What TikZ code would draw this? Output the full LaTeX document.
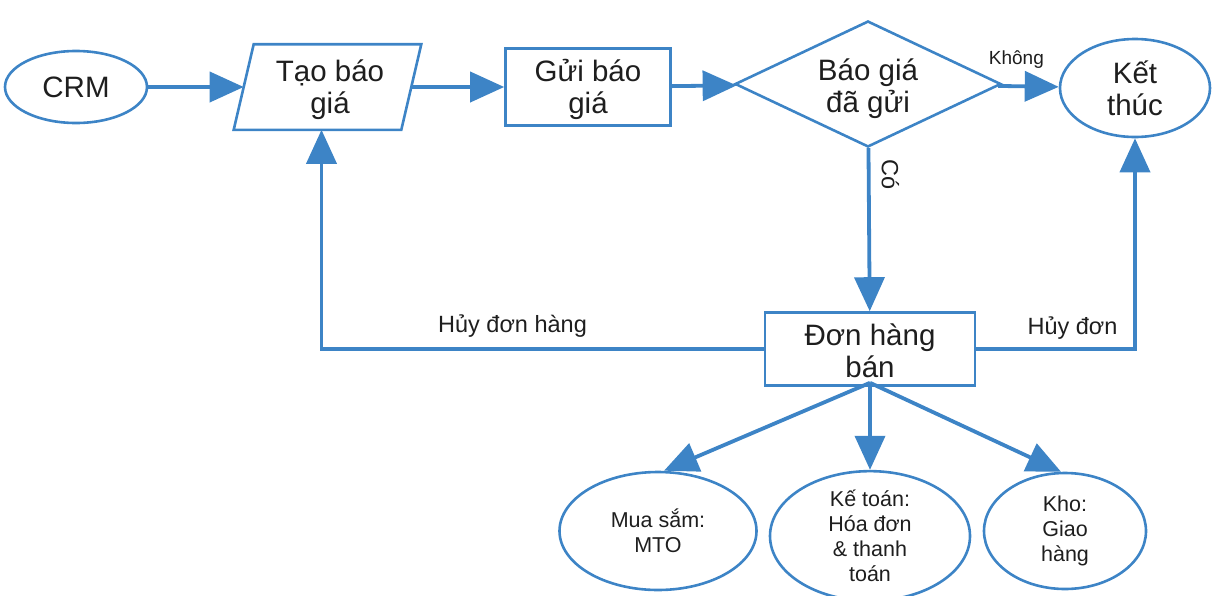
\documentclass[tikz,border=0pt]{standalone}
\usepackage{fontspec}
\setmainfont{Liberation Sans}
\usetikzlibrary{shapes.geometric,arrows.meta}
\definecolor{lblue}{HTML}{3D84C6}
\definecolor{txt}{HTML}{1E1E1E}
\tikzset{
  base/.style={draw=lblue, line width=2.6pt, text=txt, inner sep=0pt, align=center, font=\fontsize{29.5}{32}\selectfont},
  plain/.style={text=txt, inner sep=0pt, align=center, font=\fontsize{29.5}{32}\selectfont},
  oval/.style={base, ellipse},
  small/.style={base, ellipse, font=\fontsize{21.5}{25}\selectfont},
  conn/.style={draw=lblue, line width=3.8pt, -{Triangle[length=34pt,width=30pt]}},
  lbl/.style={text=txt, font=\fontsize{23.5}{26}\selectfont, inner sep=2pt},
  slbl/.style={text=txt, font=\fontsize{19}{22}\selectfont, inner sep=2pt}
}
\begin{document}
\begin{tikzpicture}[x=1pt,y=-1pt]
\useasboundingbox (0,0) rectangle (1224,595);
\node[oval, minimum width=142pt, minimum height=72pt] (crm) at (76,87) {CRM};
\node[base, draw=none, rectangle, minimum width=165pt, minimum height=83pt] (tao) at (327.5,87) {};
\node[plain] (taot) at (330,90) {Tạo báo\\giá};
\draw[base] ([xshift=10pt]tao.north west) -- ([xshift=10pt]tao.north east) -- ([xshift=-10pt]tao.south east) -- ([xshift=-10pt]tao.south west) -- cycle;
\node[base, rectangle, minimum width=165pt, minimum height=77pt] (gui) at (588,87) {};
\node[plain] (guit) at (588,89) {Gửi báo\\giá};
\node[base, diamond, minimum width=266pt, minimum height=126pt, aspect=2.1] (dia) at (868,84) {};
\node[plain] (diat) at (868,89) {Báo giá\\đã gửi};
\node[oval, minimum width=150pt, minimum height=98pt] (ket) at (1135,88) {Kết\\thúc};
\node[base, rectangle, minimum width=210pt, minimum height=73pt] (don) at (870,349) {};
\node[plain] (dont) at (870,351) {Đơn hàng\\bán};
\node[small, minimum width=197pt, minimum height=118pt] (mua) at (658,531) {Mua sắm:\\MTO};
\node[small, minimum width=200pt, minimum height=120pt] (ke) at (870,536) {Kế toán:\\Hóa đơn\\\& thanh\\toán};
\node[small, minimum width=162pt, minimum height=116pt] (kho) at (1065,531) {Kho:\\Giao\\hàng};
\draw[conn] (crm) -- (tao);
\draw[conn] (tao) -- (gui);
\draw[conn] (gui) -- (dia);
\draw[conn] (dia) -- node[slbl, pos=0.3, above, yshift=14pt] (khong) {Không} (ket);
\draw[conn] (dia) -- node[lbl, pos=0.16, rotate=-90, anchor=south, yshift=9pt] (co) {Có} (don);
\draw[conn] (don.west) -| node[lbl, pos=0.284, above, yshift=8pt] (huy1) {Hủy đơn hàng} ([xshift=-6pt]tao.south);
\draw[conn] (don.east) -| node[lbl, pos=0.303, above, yshift=6pt] (huy2) {Hủy đơn} (ket.south);
\coordinate (fork) at ([yshift=4pt]don.south);
\draw[conn] (fork) -- ([xshift=6pt]mua.north);
\draw[conn] (fork) -- (ke.north);
\draw[conn] (fork) -- ([xshift=-4pt]kho.north);
\end{tikzpicture}
\end{document}
